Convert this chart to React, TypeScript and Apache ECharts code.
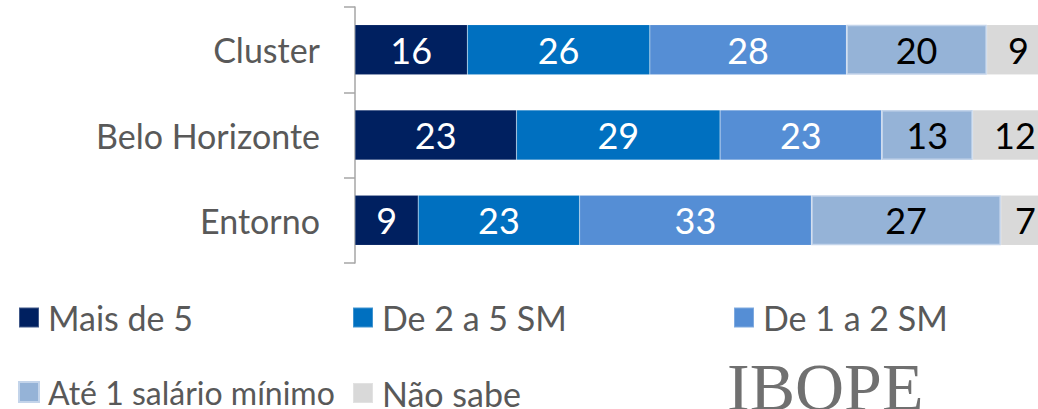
import React, { useEffect, useRef } from "react";
import * as echarts from "echarts";

const categories = ["Cluster", "Belo Horizonte", "Entorno"];
const seriesNames = ["Mais de 5", "De 2 a 5 SM", "De 1 a 2 SM", "Até 1 salário mínimo", "Não sabe"];
const maisDe5 = [16, 23, 9];
const de2a5 = [26, 29, 23];
const de1a2 = [28, 23, 33];
const ate1 = [20, 13, 27];
const naoSabe = [9, 12, 7];
const seriesValues = [maisDe5, de2a5, de1a2, ate1, naoSabe];
const colors = ["#002060", "#0070C0", "#558ED5", "#95B3D7", "#D9D9D9"];
const labelColors = ["#ffffff", "#ffffff", "#ffffff", "#000000", "#000000"];

const FONT = "Lato";

export default function App() {
  const ref = useRef<HTMLDivElement>(null);
  useEffect(() => {
    if (!ref.current) return;
    const chart = echarts.init(ref.current, null, { renderer: "svg" });
    const legendPos = [
      { left: 18, top: 300.5, size: 34 },
      { left: 352, top: 300.5, size: 34 },
      { left: 733, top: 300.5, size: 34 },
      { left: 18, top: 376, size: 32 },
      { left: 352, top: 376, size: 34 },
    ];
    const option: any = {
      animation: false,
      backgroundColor: "#ffffff",
      grid: { left: 355, top: 7, width: 702, height: 256, containLabel: false },
      xAxis: { type: "value", min: 0, max: 100, show: false },
      yAxis: {
        type: "category",
        data: categories,
        inverse: true,
        axisLine: { show: true, lineStyle: { color: "#a6a6a6", width: 1.5 } },
        axisTick: { show: true, length: 11, lineStyle: { color: "#a6a6a6", width: 1.5 } },
        axisLabel: { color: "#595959", fontSize: 34, fontFamily: FONT, margin: 35 },
        splitLine: { show: false },
      },
      legend: seriesNames.map((n, i) => ({
        data: [n],
        left: legendPos[i].left,
        top: legendPos[i].top,
        padding: 0,
        icon: "rect",
        itemWidth: 20,
        itemHeight: 20,
        selectedMode: false,
        textStyle: {
          color: "#595959",
          fontSize: legendPos[i].size,
          fontFamily: FONT,
          lineHeight: 24,
          padding: [0, 0, 0, 4],
        },
      })),
      series: seriesNames.map((n, i) => ({
        name: n,
        type: "bar",
        stack: "total",
        barWidth: 50,
        data: seriesValues[i],
        itemStyle: {
          color: colors[i],
          borderColor: i === 3 ? "#c3d4ea" : "rgba(255,255,255,0.25)",
          borderWidth: i === 3 ? 1.5 : 0.5,
        },
        label: {
          show: true,
          position: "inside",
          color: labelColors[i],
          fontSize: 36,
          fontFamily: FONT,
        },
      })),
      graphic: [
        {
          type: "text",
          left: 727,
          top: 353,
          style: {
            text: "IBOPE",
            font: "68px 'Liberation Serif'",
            fill: "#707070",
          },
        },
      ],
    };
    chart.setOption(option);
    return () => chart.dispose();
  }, []);
  return (
    <div style={{ position: "fixed", left: 0, top: 0, width: 1038, height: 409, overflow: "hidden" }}>
      <div ref={ref} style={{ width: 1100, height: 409 }} />
    </div>
  );
}
